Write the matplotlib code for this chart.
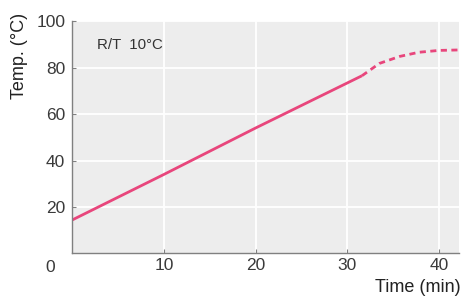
import numpy as np
import matplotlib
matplotlib.use("Agg")
import matplotlib.pyplot as plt

# measured (solid) and estimated (dashed) temperature curve
time_solid = [0, 10, 20, 31.6]
temp_solid = [14.4, 34.0, 54.0, 76.5]
time_dash = [31.6, 33.5, 35.7, 37.8, 40.0, 42.2]
temp_dash = [76.5, 81.8, 84.8, 86.6, 87.4, 87.6]

xticks = [10, 20, 30, 40]
yticks = [20, 40, 60, 80, 100]

plt.rcParams['font.family'] = ['Liberation Sans', 'DejaVu Sans']

pink = '#e8467c'
fig = plt.figure(figsize=(4.62, 2.96), dpi=100)
ax = fig.add_axes([0.156, 0.1436, 0.838, 0.785])
ax.set_facecolor('#ededed')

ax.plot(time_solid, temp_solid, color=pink, lw=2.0, solid_capstyle='butt')
ax.plot(time_dash, temp_dash, color=pink, lw=2.0, dashes=(2.2, 1.6))

ax.set_xlim(0, 42.2)
ax.set_ylim(0, 100)
ax.set_xticks(xticks)
ax.set_yticks(yticks)
ax.grid(True, color='white', lw=1.3)
ax.set_axisbelow(True)

for s in ['top', 'right']:
    ax.spines[s].set_visible(False)
for s in ['left', 'bottom']:
    ax.spines[s].set_color('#808080')
    ax.spines[s].set_linewidth(1.0)

ax.tick_params(direction='in', length=3, color='#808080', labelsize=12.5,
               labelcolor='#3a3a3a', pad=5)
ax.tick_params(axis='x', pad=3)

ax.text(-0.045, -0.028, '0', transform=ax.transAxes, ha='right', va='top',
        fontsize=12.5, color='#3a3a3a')
ax.text(2.7, 89.7, 'R/T  10\u00b0C', fontsize=10.8, color='#333333',
        va='center', ha='left')
fig.text(0.998, 0.0, 'Time (min)', ha='right', va='bottom',
         fontsize=13, color='#222222')
fig.text(0.043, 0.81, 'Temp. (\u00b0C)', rotation=90, ha='center', va='center',
         fontsize=13, color='#222222')

fig.savefig('out.png', dpi=100)
